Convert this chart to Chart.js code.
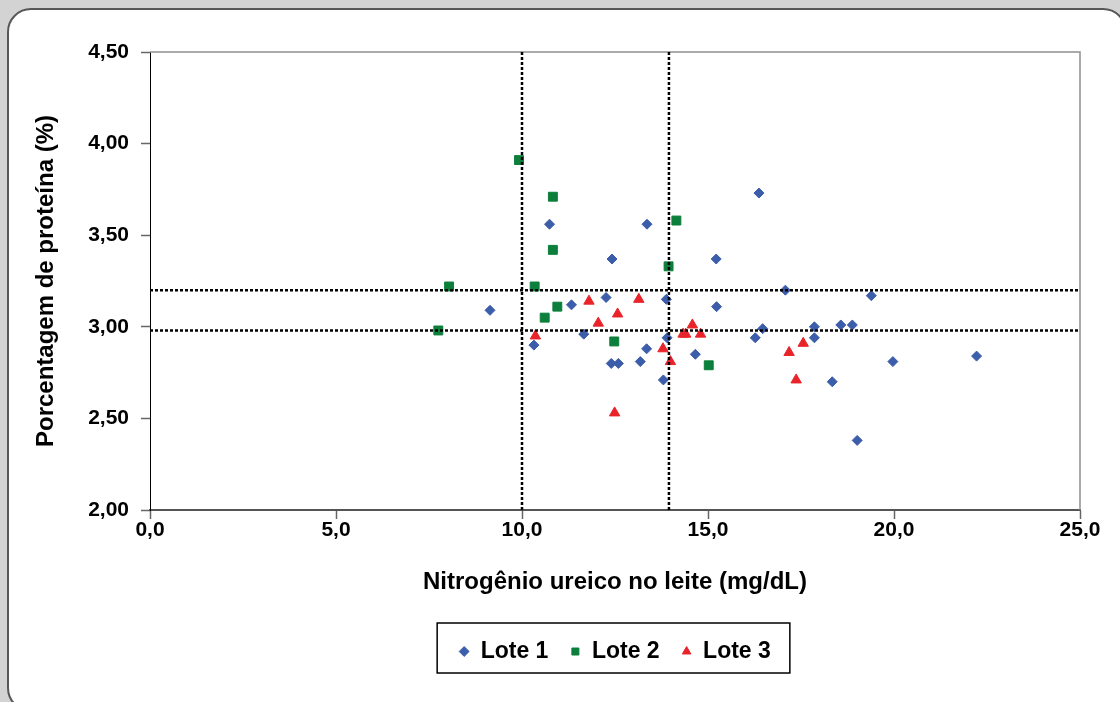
<!DOCTYPE html>
<html lang="pt">
<head>
<meta charset="utf-8">
<title>Nitrogênio ureico x proteína</title>
<script src="https://cdn.jsdelivr.net/npm/chart.js@4/dist/chart.umd.min.js"></script>
<style>
  html, body { margin: 0; padding: 0; width: 1120px; height: 702px; overflow: hidden; background: #d3d3d3; }
  .panel {
    position: absolute; left: 7px; top: 8px; width: 1116px; height: 700px;
    background: #fff; border: 2.5px solid #575757; border-radius: 24px;
  }
  .wrap { position: absolute; left: 0; top: 0; width: 1120px; height: 702px; }
</style>
</head>
<body>
<div class="panel"></div>
<div class="wrap"><canvas id="scatter"></canvas></div>
<script>
// Lote 1 (losangos azuis)
const lote1Nul = [9.14, 10.32, 10.74, 11.33, 11.66, 12.26, 12.42, 12.40, 12.59, 13.18, 13.35, 13.36, 13.88, 13.90, 13.80, 14.66,
  15.22, 15.23, 16.37, 16.27, 16.47, 17.08, 17.86, 17.86, 18.34, 18.57, 18.88, 19.01, 19.39, 19.97, 22.22];
const lote1Prot = [3.09, 2.90, 3.56, 3.12, 2.96, 3.16, 3.37, 2.80, 2.80, 2.81, 2.88, 3.56, 3.15, 2.94, 2.71, 2.85,
  3.37, 3.11, 3.73, 2.94, 2.99, 3.20, 3.00, 2.94, 2.70, 3.01, 3.01, 2.38, 3.17, 2.81, 2.84];

// Lote 2 (quadrados verdes)
const lote2Nul = [7.75, 8.04, 9.92, 10.83, 10.83, 10.34, 10.95, 10.61, 12.48, 14.15, 13.94, 15.02];
const lote2Prot = [2.98, 3.22, 3.91, 3.71, 3.42, 3.22, 3.11, 3.05, 2.92, 3.58, 3.33, 2.79];

// Lote 3 (triângulos vermelhos)
const lote3Nul = [10.36, 11.80, 12.05, 12.57, 13.14, 12.49, 13.79, 13.99, 14.33, 14.40, 14.58, 14.80, 17.56, 17.18, 17.37];
const lote3Prot = [2.95, 3.14, 3.02, 3.07, 3.15, 2.53, 2.88, 2.81, 2.96, 2.96, 3.01, 2.96, 2.91, 2.86, 2.71];

// linhas de referência (pontilhadas)
const refNul = [10.0, 13.95];
const refProt = [2.98, 3.20];

const xMin = 0, xMax = 25, xStep = 5;
const yMin = 2, yMax = 4.5, yStep = 0.5;

const pts = (xs, ys) => xs.map((x, i) => ({ x, y: ys[i] }));

Chart.defaults.font.family = "'Liberation Sans', Arial, sans-serif";
Chart.defaults.font.weight = 'bold';
Chart.defaults.color = '#000';

const refLine = (data) => ({
  label: '',
  data,
  showLine: true,
  borderColor: '#000',
  borderWidth: 2.5,
  borderDash: [3, 2],
  pointRadius: 0,
  pointHoverRadius: 0,
  order: 0,
});

// borda superior/direita da área do gráfico + moldura da legenda
const framePlugin = {
  id: 'frame',
  beforeDatasetsDraw(chart) {
    const { ctx, chartArea: a } = chart;
    ctx.save();
    ctx.strokeStyle = '#8f8f8f';
    ctx.lineWidth = 1.5;
    ctx.beginPath();
    ctx.moveTo(a.left, a.top);
    ctx.lineTo(a.right, a.top);
    ctx.lineTo(a.right, a.bottom);
    ctx.stroke();
    ctx.restore();
  },
  afterDraw(chart) {
    const boxes = chart.legend.legendHitBoxes;
    if (!boxes || !boxes.length) return;
    const { ctx } = chart;
    const first = boxes[0], last = boxes[boxes.length - 1];
    const l = first.left - 22, r = last.left + last.width + 19;
    const t = first.top - 17, b = first.top + first.height + 10;
    ctx.save();
    ctx.strokeStyle = '#000';
    ctx.lineWidth = 1.5;
    ctx.strokeRect(l, t, r - l, b - t);
    ctx.restore();
  }
};

new Chart(document.getElementById('scatter'), {
  type: 'scatter',
  data: {
    datasets: [
      {
        label: 'Lote 1', data: pts(lote1Nul, lote1Prot), pointStyle: 'rectRot',
        pointRadius: 5, backgroundColor: '#3b5daa', borderColor: '#3b5daa', borderWidth: 1, order: 1,
      },
      {
        label: 'Lote 2', data: pts(lote2Nul, lote2Prot), pointStyle: 'rect',
        pointRadius: 6.3, backgroundColor: '#0b7f3b', borderColor: '#0b7f3b', borderWidth: 1, order: 1,
      },
      {
        label: 'Lote 3', data: pts(lote3Nul, lote3Prot), pointStyle: 'triangle',
        pointRadius: 6, backgroundColor: '#e8242a', borderColor: '#e8242a', borderWidth: 1, order: 1,
      },
      ...refNul.map(x => refLine([{ x, y: yMin }, { x, y: yMax }])),
      ...refProt.map(y => refLine([{ x: xMin, y }, { x: xMax, y }])),
    ],
  },
  options: {
    responsive: true,
    maintainAspectRatio: false,
    animation: false,
    layout: { padding: { left: 0, right: 40, top: 52, bottom: 29 } },
    plugins: {
      tooltip: { enabled: false },
      legend: {
        position: 'bottom',
        fullSize: false,
        labels: {
          usePointStyle: true,
          boxWidth: 10,
          boxHeight: 7,
          padding: 22,
          color: '#000',
          font: { size: 23, weight: 'bold' },
          filter: item => item.text !== '',
        },
      },
    },
    scales: {
      x: {
        type: 'linear',
        min: xMin, max: xMax,
        afterFit: s => { s.height = 108; },
        ticks: { stepSize: xStep, padding: -1, font: { size: 21, weight: 'bold' }, color: '#000',
          callback: v => v.toFixed(1).replace('.', ',') },
        grid: { drawOnChartArea: false, tickLength: 9, color: '#666', tickWidth: 1.5 },
        border: { color: '#555', width: 2 },
        title: { display: true, text: 'Nitrogênio ureico no leite (mg/dL)', color: '#000',
          font: { size: 24, weight: 'bold' }, padding: { top: 0, bottom: 21 } },
      },
      y: {
        min: yMin, max: yMax,
        afterFit: s => { s.width = 150; },
        ticks: { stepSize: yStep, padding: 12, font: { size: 21, weight: 'bold' }, color: '#000',
          callback: v => v.toFixed(2).replace('.', ',') },
        grid: { drawOnChartArea: false, tickLength: 9, color: '#666', tickWidth: 1.5 },
        border: { color: '#000', width: 1 },
        title: { display: true, text: 'Porcentagem de proteína (%)', color: '#000',
          font: { size: 24, weight: 'bold' }, padding: { top: 32, bottom: 0 } },
      },
    },
  },
  plugins: [framePlugin],
});
</script>
</body>
</html>
